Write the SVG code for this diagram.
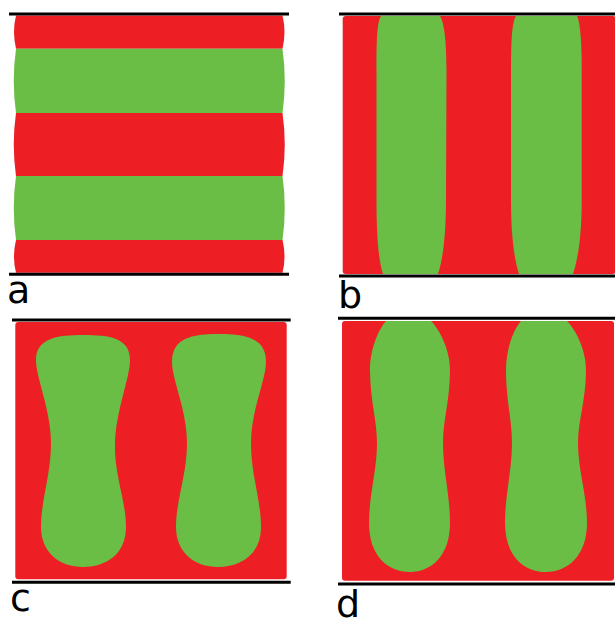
<svg xmlns="http://www.w3.org/2000/svg" width="615" height="618" viewBox="0 0 615 618">
<style>
.r{fill:#ed1f24}
.g{fill:#6abd45}
.ln{stroke:#000;stroke-width:3;fill:none}
.lb{font-family:"DejaVu Sans",sans-serif;font-size:38px;fill:#000}
</style>
<rect width="615" height="618" fill="#fff"/>
<g id="panel-a">
<path class="r" d="M16 15.5 H282.5 Q286.5 32 282.5 48.7 H16 Q12 32 16 15.5 Z"/>
<path class="g" d="M16 48.7 H282.5 Q287 81 282.5 113 H16 Q11.5 81 16 48.7 Z"/>
<path class="r" d="M16 113 H282.5 Q287 144.5 282.5 176 H16 Q11.5 144.5 16 113 Z"/>
<path class="g" d="M16 176 H282.5 Q287 208 282.5 240 H16 Q11.5 208 16 176 Z"/>
<path class="r" d="M16 240 H282.5 Q286.5 256.5 282.5 272.7 H16 Q12 256.5 16 240 Z"/>
<line class="ln" x1="9" y1="14" x2="289" y2="14"/>
<line class="ln" x1="9" y1="274.3" x2="289" y2="274.3"/>
<text class="lb" x="7" y="303">a</text>
</g>
<g id="panel-b">
<rect class="r" x="342.7" y="16" width="273" height="258" rx="3"/>
<path class="g" d="M381 16 L440 16 C444 22 446.5 40 446.5 70 L446 200 C446 240 442 262 438 274 L383 274 C379 262 376.5 240 376.5 200 L376.5 70 C376.5 40 377 22 381 16 Z"/>
<path class="g" d="M516 16 L577 16 C580 22 581.7 40 581.7 70 L581.7 200 C581.7 240 577 262 573 274 L519 274 C515 262 511 240 511 200 L511 70 C511 40 512 22 516 16 Z"/>
<line class="ln" x1="339" y1="14" x2="615" y2="14"/>
<line class="ln" x1="339" y1="276" x2="615" y2="276"/>
<text class="lb" x="338" y="308">b</text>
</g>
<g id="panel-c">
<rect class="r" x="15.3" y="322" width="271.4" height="257.3" rx="3"/>
<path class="g" d="M83 335 C110 335 130 338 130 360 C130 378 116 410 115 443 C114 475 126 500 126 527 C126 555 105 567 83 567 C60 567 41 553 41 527 C41 500 51 475 51 443 C51 410 36 378 36 360 C36 338 58 335 83 335 Z"/>
<path class="g" d="M218 334 C246 334 266 338 266 362 C266 380 251 410 251 443 C251 475 261 500 261 527 C261 555 240 567 218 567 C195 567 176 553 176 527 C176 500 187 475 187 443 C187 410 172 380 172 362 C172 338 192 334 218 334 Z"/>
<line class="ln" x1="12" y1="320" x2="290.7" y2="320"/>
<line class="ln" x1="12" y1="582.3" x2="290.7" y2="582.3"/>
<text class="lb" x="10" y="611">c</text>
</g>
<g id="panel-d">
<rect class="r" x="342" y="321" width="272" height="259.7" rx="3"/>
<path class="g" d="M386 321 L431 321 C440 330 450 350 450 370 C450 400 443 420 443 443 C443 470 450 495 450 523 C450 555 432 572 410 572 C387 572 369 555 369 523 C369 495 377 470 377 443 C377 420 370 400 370 370 C370 350 378 330 386 321 Z"/>
<path class="g" d="M521 321 L567 321 C576 330 586 350 586 370 C586 400 578 420 578 443 C578 470 587 495 587 523 C587 555 568 572 546 572 C523 572 505 555 505 523 C505 495 512 470 512 443 C512 420 506 400 506 370 C506 350 513 330 521 321 Z"/>
<line class="ln" x1="338" y1="318.3" x2="615" y2="318.3"/>
<line class="ln" x1="338" y1="584" x2="615" y2="584"/>
<text class="lb" x="336" y="617">d</text>
</g>
</svg>
